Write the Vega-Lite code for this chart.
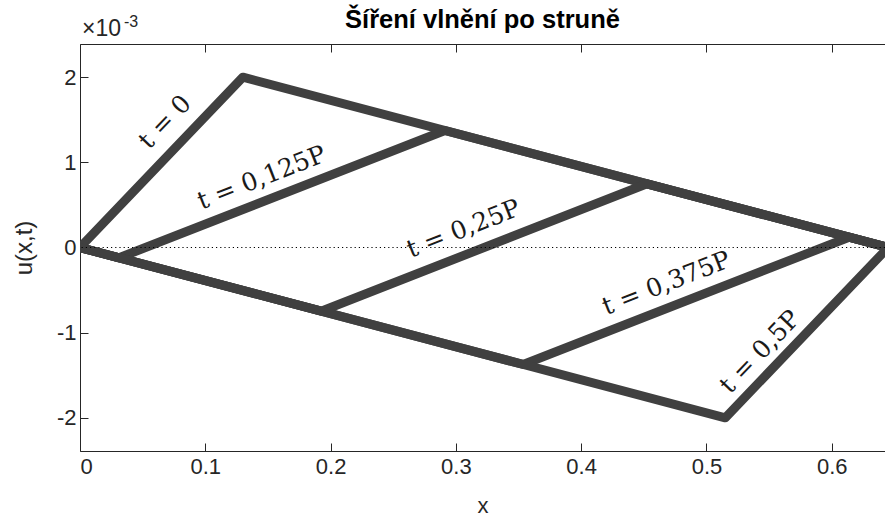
{
  "$schema": "https://vega.github.io/schema/vega-lite/v6.json",
  "width": 805,
  "height": 407,
  "autosize": {"type": "none"},
  "padding": {"left": 80, "top": 44, "right": 0, "bottom": 75},
  "background": "white",
  "config": {"view": {"stroke": null}, "font": "Liberation Sans"},
  "title": {"text": "Šíření vlnění po struně", "fontSize": 25.5, "fontWeight": "bold", "font": "Liberation Sans", "color": "#000000", "anchor": "middle", "offset": -19},
  "datasets": {
    "lines": [
      {"series": "t0", "x": 0, "u": 0},
      {"series": "t0", "x": 0.13, "u": 2},
      {"series": "t0", "x": 0.645, "u": 0},
      {"series": "t1", "x": 0, "u": 0},
      {"series": "t1", "x": 0.03125, "u": -0.121},
      {"series": "t1", "x": 0.29125, "u": 1.374},
      {"series": "t1", "x": 0.645, "u": 0},
      {"series": "t2", "x": 0, "u": 0},
      {"series": "t2", "x": 0.1925, "u": -0.748},
      {"series": "t2", "x": 0.4525, "u": 0.748},
      {"series": "t2", "x": 0.645, "u": 0},
      {"series": "t3", "x": 0, "u": 0},
      {"series": "t3", "x": 0.35375, "u": -1.374},
      {"series": "t3", "x": 0.61375, "u": 0.121},
      {"series": "t3", "x": 0.645, "u": 0},
      {"series": "t4", "x": 0, "u": 0},
      {"series": "t4", "x": 0.515, "u": -2},
      {"series": "t4", "x": 0.645, "u": 0}
    ],
    "zero": [{"u": 0}],
    "corner": [{"x": 0, "u": 2.39}],
    "steep": [
      {"label": "t = 0", "x": 0.0678, "u": 1.475},
      {"label": "t = 0,5P", "x": 0.5427, "u": -1.225}
    ],
    "shallow": [
      {"label": "t = 0,125P", "x": 0.145, "u": 0.82},
      {"label": "t = 0,25P", "x": 0.306, "u": 0.22},
      {"label": "t = 0,375P", "x": 0.468, "u": -0.42}
    ]
  },
  "layer": [
    {
      "data": {"name": "lines"},
      "mark": {"type": "line", "color": "#404040", "strokeWidth": 9, "strokeJoin": "round", "strokeCap": "round", "clip": true},
      "encoding": {
        "x": {"field": "x", "type": "quantitative", "scale": {"domain": [0, 0.6425], "nice": false, "zero": false},
          "axis": {"orient": "bottom", "values": [0, 0.1, 0.2, 0.3, 0.4, 0.5, 0.6], "labelExpr": "'' + datum.value", "grid": false, "tickSize": -8, "tickColor": "#262626", "domainColor": "#262626", "labelColor": "#262626", "labelFontSize": 22, "labelPadding": 13, "title": "x", "titleFontSize": 22, "titleFontWeight": "normal", "titleColor": "#262626", "titlePadding": 18}},
        "y": {"field": "u", "type": "quantitative", "scale": {"domain": [-2.39, 2.39], "nice": false, "zero": false},
          "axis": {"values": [-2, -1, 0, 1, 2], "labelExpr": "'' + datum.value", "grid": false, "tickSize": -8, "tickColor": "#262626", "domainColor": "#262626", "labelColor": "#262626", "labelFontSize": 22, "labelPadding": 12, "title": "u(x,t)", "titleFontSize": 24, "titleFontWeight": "normal", "titleColor": "#262626", "titlePadding": 20}},
        "detail": {"field": "series"},
        "order": {"field": "x", "type": "quantitative"}
      }
    },
    {
      "data": {"name": "zero"},
      "mark": {"type": "rule", "color": "#000000", "strokeWidth": 1.1, "strokeDash": [1.2, 3]},
      "encoding": {"y": {"field": "u", "type": "quantitative"}}
    },
    {
      "data": {"name": "steep"},
      "mark": {"type": "text", "font": "DejaVu Serif", "fontSize": 25, "color": "#1a1a1a", "angle": 313.7, "align": "center", "baseline": "middle"},
      "encoding": {
        "x": {"field": "x", "type": "quantitative", "axis": null},
        "y": {"field": "u", "type": "quantitative"},
        "text": {"field": "label"}
      }
    },
    {
      "data": {"name": "shallow"},
      "mark": {"type": "text", "font": "DejaVu Serif", "fontSize": 25, "color": "#1a1a1a", "angle": 338.65, "align": "center", "baseline": "middle"},
      "encoding": {
        "x": {"field": "x", "type": "quantitative", "axis": null},
        "y": {"field": "u", "type": "quantitative"},
        "text": {"field": "label"}
      }
    },
    {
      "data": {"name": "corner"},
      "mark": {"type": "text", "text": "×10", "fontSize": 23, "color": "#262626", "align": "left", "baseline": "alphabetic", "dx": 2, "dy": -8},
      "encoding": {
        "x": {"field": "x", "type": "quantitative", "axis": {"orient": "top", "labels": false, "title": null, "grid": false, "tickSize": -8, "tickColor": "#262626", "domainColor": "#262626", "values": [0, 0.1, 0.2, 0.3, 0.4, 0.5, 0.6]}},
        "y": {"field": "u", "type": "quantitative"}
      }
    },
    {
      "data": {"name": "corner"},
      "mark": {"type": "text", "text": "-3", "fontSize": 16, "color": "#262626", "align": "left", "baseline": "alphabetic", "dx": 44, "dy": -17},
      "encoding": {
        "x": {"field": "x", "type": "quantitative", "axis": null},
        "y": {"field": "u", "type": "quantitative"}
      }
    }
  ],
  "resolve": {"axis": {"x": "independent"}}
}
